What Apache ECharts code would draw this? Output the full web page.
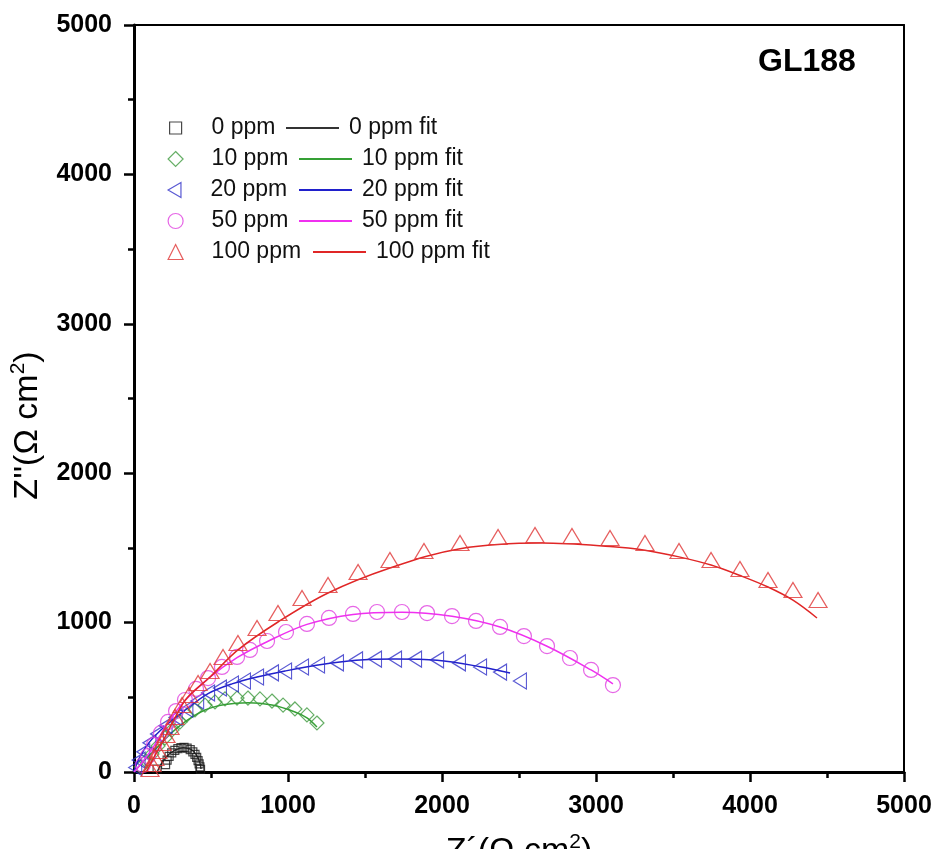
<!DOCTYPE html>
<html>
<head>
<meta charset="utf-8">
<script src="https://cdn.jsdelivr.net/npm/echarts@6/dist/echarts.min.js"></script>
<style>
  html, body { margin: 0; padding: 0; background: #fff; }
  #chart { width: 938px; height: 849px; }
</style>
</head>
<body>
<div id="chart"></div>
<script>
// Nyquist data for GL188 at several inhibitor concentrations: [Z', Z''] in Ω cm²
const seriesNames = ['0 ppm', '10 ppm', '20 ppm', '50 ppm', '100 ppm'];
const fitNames = ['0 ppm fit', '10 ppm fit', '20 ppm fit', '50 ppm fit', '100 ppm fit'];

const meas0 = [[150,20],[205,50],[215,80],[228,105],[245,128],[265,145],[285,157],[305,163],[325,165],
  [345,160],[365,150],[382,135],[396,118],[407,98],[416,76],[423,55],[428,35],[432,18]];
const fit0 = [[150,0],[180,60],[220,112],[270,148],[320,163],[370,152],[405,115],[428,62],[435,20]];

const meas10 = [[45,33],[78,74],[117,120],[156,174],[201,228],[247,281],[299,335],[344,382],[396,415],
  [461,448],[526,469],[591,489],[669,495],[740,495],[818,489],[896,475],[968,448],[1045,422],[1123,382],[1188,328]];
const fit10 = [[0,0],[60,70],[156,170],[247,265],[344,345],[461,415],[591,452],[740,464],[896,448],
  [1045,402],[1123,362],[1188,301]];

const meas20 = [[8,30],[30,80],[60,135],[100,195],[150,255],[205,310],[270,365],[340,420],[410,475],
  [481,529],[558,562],[636,589],[714,609],[799,636],[896,663],[981,676],[1091,703],[1195,716],[1318,730],
  [1442,750],[1565,756],[1695,756],[1825,756],[1968,750],[2110,730],[2247,703],[2377,669],[2506,609]];
const fit20 = [[0,0],[30,85],[100,200],[205,310],[340,420],[481,525],[636,590],[799,636],[981,676],
  [1195,716],[1442,748],[1695,756],[1968,748],[2247,705],[2442,663]];

const meas50 = [[58,47],[91,107],[130,181],[175,261],[221,335],[273,408],[331,482],[403,556],[481,629],
  [571,703],[669,770],[753,817],[864,877],[987,937],[1123,991],[1266,1031],[1422,1058],[1578,1071],
  [1740,1071],[1903,1064],[2065,1044],[2221,1011],[2377,971],[2532,910],[2682,843],[2831,763],[2968,683],[3110,582]];
const fit50 = [[0,0],[50,60],[130,175],[221,330],[331,478],[481,625],[669,765],[864,872],[1123,988],
  [1422,1055],[1740,1070],[2065,1042],[2377,970],[2682,842],[2968,683],[3110,590]];

const meas100 = [[104,20],[117,54],[136,94],[156,141],[182,194],[208,248],[234,301],[266,368],[312,448],
  [357,515],[416,596],[494,676],[578,770],[675,863],[799,964],[935,1064],[1091,1165],[1260,1252],
  [1455,1339],[1662,1419],[1883,1479],[2117,1533],[2364,1573],[2604,1586],[2844,1580],[3091,1566],
  [3318,1533],[3539,1479],[3747,1419],[3935,1359],[4117,1285],[4279,1218],[4442,1151]];
const fit100 = [[80,0],[130,100],[200,230],[270,370],[344,495],[494,636],[675,817],[935,1004],
  [1260,1198],[1662,1365],[2117,1495],[2650,1533],[3091,1510],[3318,1485],[3539,1440],[3747,1385],
  [3935,1315],[4117,1238],[4279,1150],[4435,1031]];

const measured = [meas0, meas10, meas20, meas50, meas100];
const fitted = [fit0, fit10, fit20, fit50, fit100];

const axisMin = 0, axisMax = 5000, axisStep = 1000;

// styling
const FONT = "'Liberation Sans', Arial, Helvetica, sans-serif";
const markColors = ['#1a1a1a', '#3f9a3f', '#3030c8', '#e040e0', '#e03636'];
const lineColors = ['#333333', '#35a035', '#2020cc', '#f030f0', '#e02626'];
const symbols = ['rect', 'diamond', 'triangle', 'circle', 'triangle'];
const symbolSizes = [8, 14, [16, 13], 15, [18, 15]];
const symbolRotates = [0, 0, 90, 0, 0];
// legend glyphs (the left-pointing triangle is given as a path so it keeps its direction)
const legendIcons = ['rect', 'diamond', 'path://M12,0L12,14L0,7Z', 'circle', 'triangle'];
const legendIconSizes = [12, 15, 15, 15, 15];
const legendRowCenters = [128, 159, 190, 221, 252];
const fitLegendLefts = [285, 298, 298, 298, 312];

const series = [];
for (let i = 0; i < seriesNames.length; i++) {
  series.push({
    type: 'scatter',
    name: seriesNames[i],
    data: measured[i],
    symbol: symbols[i],
    symbolSize: symbolSizes[i],
    symbolRotate: symbolRotates[i],
    itemStyle: { color: 'rgba(0,0,0,0)', borderColor: markColors[i], borderWidth: 1.2 },
    z: 3 + i
  });
  series.push({
    type: 'line',
    name: fitNames[i],
    data: fitted[i],
    symbol: 'none',
    smooth: 0.35,
    lineStyle: { color: lineColors[i], width: 1.5 },
    itemStyle: { color: lineColors[i] },
    z: 3 + i
  });
}

const legendText = { fontSize: 23, fontFamily: FONT, color: '#111' };
const legends = [];
seriesNames.forEach((n, i) => {
  const s = legendIconSizes[i];
  // marker + label: glyph centred at x=175, label starting at x=211
  legends.push({
    data: [{ name: n, icon: legendIcons[i] }],
    left: 175 - s / 2,
    top: legendRowCenters[i] - 11.5,
    padding: 0,
    itemWidth: s,
    itemHeight: s,
    symbolKeepAspect: true,
    selectedMode: false,
    itemStyle: { color: 'rgba(0,0,0,0)', borderColor: markColors[i], borderWidth: 1.2 },
    textStyle: Object.assign({ padding: [0, 0, 0, 31 - s / 2] }, legendText)
  });
  // fit line + label
  legends.push({
    data: [{ name: fitNames[i], itemStyle: { opacity: 0 } }],
    left: fitLegendLefts[i],
    top: legendRowCenters[i] - 11.5,
    padding: 0,
    itemWidth: 53,
    itemHeight: 14,
    selectedMode: false,
    textStyle: Object.assign({ padding: [0, 0, 0, 5] }, legendText)
  });
});

const titleRich = {
  a: { fontSize: 34, fontFamily: FONT, color: '#000', lineHeight: 40 },
  s: { fontSize: 21, fontFamily: FONT, color: '#000', verticalAlign: 'top', lineHeight: 20 }
};

const tickStyle = { color: '#000', width: 2.5 };
const labelStyle = {
  fontSize: 25, fontWeight: 'bold', fontFamily: FONT, color: '#000',
  formatter: v => String(v)
};

const chart = echarts.init(document.getElementById('chart'), null, { renderer: 'canvas' });
chart.setOption({
  animation: false,
  backgroundColor: '#fff',
  title: {
    text: 'GL188',
    left: 758,
    top: 46,
    padding: 0,
    textStyle: { fontSize: 32, fontWeight: 'bold', fontFamily: FONT, color: '#000' }
  },
  legend: legends,
  grid: { left: 134, right: 34, top: 25, bottom: 77, containLabel: false, outerBoundsMode: 'none' },
  xAxis: [{
    type: 'value', min: axisMin, max: axisMax, interval: axisStep, position: 'bottom',
    axisLine: { show: true, onZero: false, lineStyle: { color: '#000', width: 3 } },
    axisTick: { show: true, inside: false, length: 10, lineStyle: tickStyle },
    minorTick: { show: true, splitNumber: 2, length: 6, lineStyle: tickStyle },
    splitLine: { show: false }, minorSplitLine: { show: false },
    axisLabel: Object.assign({ margin: 22 }, labelStyle),
    name: "{a|Z´(Ω cm}{s|2}{a|)}",
    nameLocation: 'middle', nameGap: 60,
    nameTextStyle: { rich: titleRich }
  }, {
    type: 'value', min: axisMin, max: axisMax, position: 'top',
    axisLine: { show: true, onZero: false, lineStyle: { color: '#000', width: 2 } },
    axisTick: { show: false }, axisLabel: { show: false }, splitLine: { show: false }
  }],
  yAxis: [{
    type: 'value', min: axisMin, max: axisMax, interval: axisStep, position: 'left',
    axisLine: { show: true, onZero: false, lineStyle: { color: '#000', width: 3 } },
    axisTick: { show: true, inside: false, length: 10, lineStyle: tickStyle },
    minorTick: { show: true, splitNumber: 2, length: 6, lineStyle: tickStyle },
    splitLine: { show: false }, minorSplitLine: { show: false },
    axisLabel: Object.assign({ margin: 22 }, labelStyle),
    name: "{a|Z''(Ω cm}{s|2}{a|)}",
    nameLocation: 'middle', nameGap: 86, nameRotate: 90,
    nameTextStyle: { rich: titleRich, padding: [0, 54, 0, 0] }
  }, {
    type: 'value', min: axisMin, max: axisMax, position: 'right',
    axisLine: { show: true, onZero: false, lineStyle: { color: '#000', width: 2 } },
    axisTick: { show: false }, axisLabel: { show: false }, splitLine: { show: false }
  }],
  series: series
});
</script>
</body>
</html>
